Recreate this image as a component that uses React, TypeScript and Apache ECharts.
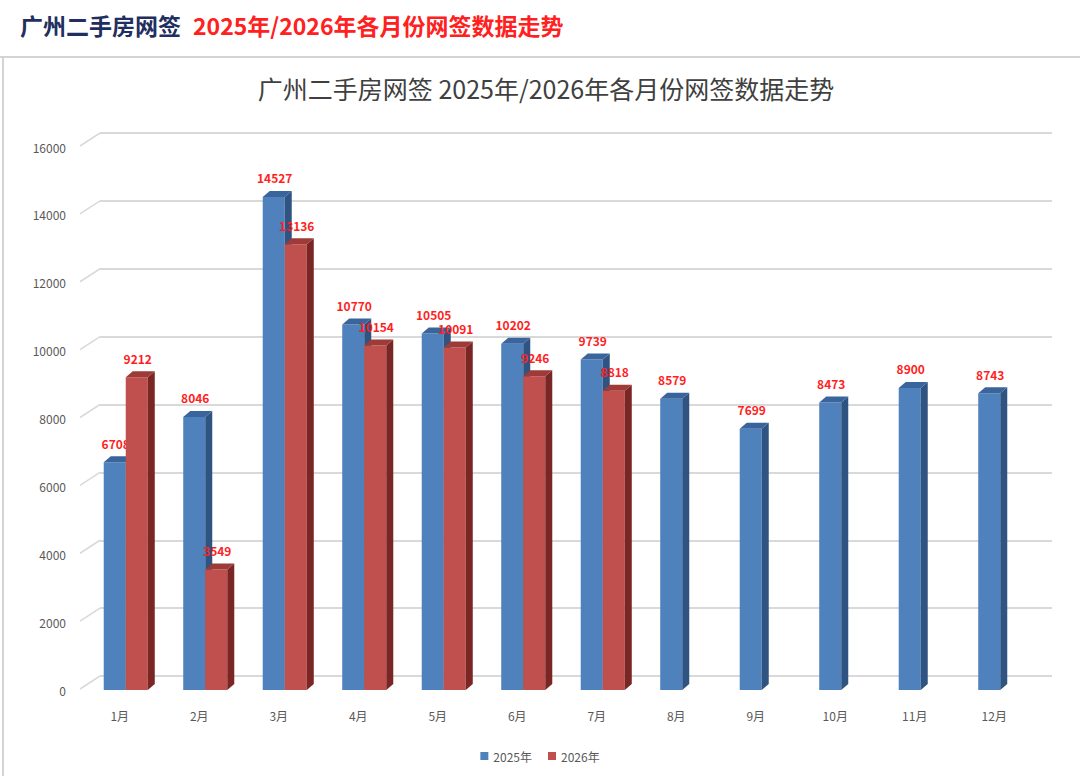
import React, { useEffect, useRef } from "react";
import * as echarts from "echarts";

const months = ["1月", "2月", "3月", "4月", "5月", "6月", "7月", "8月", "9月", "10月", "11月", "12月"];
const values2025 = [6708, 8046, 14527, 10770, 10505, 10202, 9739, 8579, 7699, 8473, 8900, 8743];
const values2026 = [9212, 3549, 13136, 10154, 10091, 9246, 8818];
const yTicks = [0, 2000, 4000, 6000, 8000, 10000, 12000, 14000, 16000];
const seriesNames = ["2025年", "2026年"];

const FONT = '"Noto Sans CJK SC", "Noto Sans", sans-serif';

const DX = 7;
const DY = 6;

function make3DBar(side: "left" | "right", front: string, sideC: string, topC: string) {
  return (params: any, api: any) => {
    const cat = api.value(0);
    const v = api.value(1);
    const base = api.coord([cat, 0]);
    const top = api.coord([cat, v]);
    const band = api.size([1, 0])[0];
    const w = band * 0.277;
    const x0 = side === "left" ? base[0] - w : base[0];
    const x1 = x0 + w;
    return {
      type: "group",
      children: [
        {
          type: "rect",
          shape: { x: x0, y: top[1], width: w, height: base[1] - top[1] },
          style: { fill: front },
        },
        {
          type: "polygon",
          shape: {
            points: [
              [x1, top[1]],
              [x1 + DX, top[1] - DY],
              [x1 + DX, base[1] - DY],
              [x1, base[1]],
            ],
          },
          style: { fill: sideC },
        },
        {
          type: "polygon",
          shape: {
            points: [
              [x0, top[1]],
              [x0 + DX, top[1] - DY],
              [x1 + DX, top[1] - DY],
              [x1, top[1]],
            ],
          },
          style: { fill: topC },
        },
        {
          type: "text",
          z2: 10,
          style: {
            text: String(v),
            x: (x0 + x1) / 2 + 1,
            y: top[1] - 13,
            align: "center",
            verticalAlign: "bottom",
            fill: "#ff1f1f",
            font: `bold 12px ${FONT}`,
          },
        },
      ],
    };
  };
}

function diagonalRender(params: any, api: any) {
  const t = api.value(1);
  const p = api.coord([0, t]);
  const left = params.coordSys.x;
  return {
    type: "line",
    shape: { x1: left - 6, y1: p[1] - 1, x2: left + 14, y2: p[1] - 14 },
    style: { stroke: "#d9d9d9", lineWidth: 1.5 },
  };
}

export default function App() {
  const ref = useRef<HTMLDivElement>(null);
  useEffect(() => {
    if (!ref.current) return;
    const chart = echarts.init(ref.current, null, { renderer: "svg" });
    const option: any = {
      animation: false,
      backgroundColor: "#ffffff",
      color: ["#4f81bd", "#c0504d"],
      textStyle: { fontFamily: FONT },
      graphic: [
        {
          type: "line",
          shape: { x1: 0, y1: 57, x2: 1080, y2: 57 },
          style: { stroke: "#d4d4d4", lineWidth: 2 },
        },
        {
          type: "line",
          shape: { x1: 3, y1: 57, x2: 3, y2: 776 },
          style: { stroke: "#d4d4d4", lineWidth: 2 },
        },
        {
          type: "text",
          x: 20,
          y: 25,
          style: {
            text: "广州二手房网签",
            fill: "#1f2f5f",
            font: `bold 23px ${FONT}`,
            verticalAlign: "middle",
          },
        },
        {
          type: "text",
          x: 193,
          y: 25,
          style: {
            text: "2025年/2026年各月份网签数据走势",
            fill: "#ff2020",
            font: `bold 23px ${FONT}`,
            verticalAlign: "middle",
          },
        },
        {
          type: "text",
          x: 546,
          y: 88,
          style: {
            text: "广州二手房网签 2025年/2026年各月份网签数据走势",
            fill: "#404040",
            font: `25px ${FONT}`,
            align: "center",
            verticalAlign: "middle",
          },
        },
      ],
      legend: {
        data: seriesNames,
        left: "center",
        top: 745,
        icon: "rect",
        itemWidth: 8,
        itemHeight: 8,
        itemGap: 16,
        textStyle: { fontSize: 12, color: "#595959", fontFamily: FONT },
      },
      grid: [
        { left: 86, right: 40, top: 147, bottom: 86 },
        { left: 100, right: 28, top: 133, bottom: 100 },
      ],
      xAxis: [
        {
          type: "category",
          gridIndex: 0,
          data: months,
          axisLine: { show: false },
          axisTick: { show: false },
          axisLabel: {
            color: "#595959",
            fontSize: 12,
            margin: 19,
            padding: [0, 12, 0, 0],
            fontFamily: FONT,
          },
        },
        { type: "value", gridIndex: 1, show: false, min: 0, max: 1 },
      ],
      yAxis: [
        {
          type: "value",
          gridIndex: 0,
          min: 0,
          max: 16000,
          interval: 2000,
          axisLine: { show: false },
          axisTick: { show: false },
          splitLine: { show: false },
          axisLabel: {
            color: "#595959",
            fontSize: 12,
            margin: 20,
            fontFamily: FONT,
            formatter: (v: number) => String(v),
          },
        },
        {
          type: "value",
          gridIndex: 1,
          min: 0,
          max: 16000,
          interval: 2000,
          axisLine: { show: false },
          axisTick: { show: false },
          axisLabel: { show: false },
          splitLine: { show: true, lineStyle: { color: "#d9d9d9", width: 2 } },
        },
      ],
      series: [
        {
          name: seriesNames[0],
          type: "custom",
          xAxisIndex: 0,
          yAxisIndex: 0,
          itemStyle: { color: "#4f81bd" },
          renderItem: make3DBar("left", "#4f81bd", "#2f5482", "#3a659c"),
          encode: { x: 0, y: 1 },
          data: values2025.map((v, i) => [i, v]),
          z: 3,
        },
        {
          name: seriesNames[1],
          type: "custom",
          xAxisIndex: 0,
          yAxisIndex: 0,
          itemStyle: { color: "#c0504d" },
          renderItem: make3DBar("right", "#c0504d", "#7a2624", "#9e3a37"),
          encode: { x: 0, y: 1 },
          data: values2026.map((v, i) => [i, v]),
          z: 4,
        },
        {
          name: "diag",
          type: "custom",
          xAxisIndex: 0,
          yAxisIndex: 0,
          silent: true,
          renderItem: diagonalRender,
          encode: { x: 0, y: 1 },
          data: yTicks.map((t) => [0, t]),
          z: 1,
        },
      ],
    };
    chart.setOption(option);
    return () => chart.dispose();
  }, []);
  return (
    <div
      ref={ref}
      style={{ position: "absolute", left: 0, top: 0, width: 1080, height: 776 }}
    />
  );
}
